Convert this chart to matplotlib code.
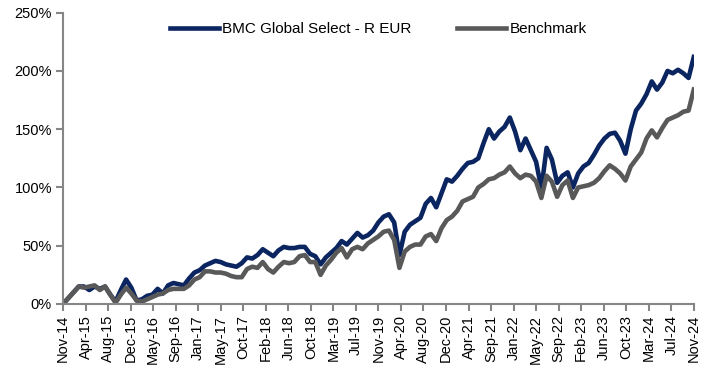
import matplotlib
matplotlib.use('Agg')
import matplotlib.pyplot as plt
from matplotlib.ticker import FuncFormatter

plt.rcParams['font.family'] = ['Liberation Sans', 'DejaVu Sans']

# monthly cumulative performance (%) from Nov-14 to Nov-24
fund = [0, 5, 10, 15, 15, 12, 15, 13, 15, 8, 2, 12, 21, 14, 3, 4, 7, 8, 13, 9,
        16, 18, 17, 16, 22, 27, 29, 33, 35, 37, 36, 34, 33, 32, 35, 40, 39, 42, 47, 44,
        41, 46, 49, 48, 48, 49, 49, 43, 41, 34, 40, 44, 48, 54, 51, 56, 61, 57, 59, 63,
        70, 75, 77, 70, 42, 62, 68, 71, 74, 86, 91, 83, 95, 107, 105, 110, 116, 121, 122, 125,
        138, 150, 142, 148, 152, 160, 148, 132, 142, 132, 122, 99, 134, 124, 104, 110, 113, 100, 112, 118,
        121, 128, 136, 142, 146, 147, 140, 129, 150, 166, 172, 180, 191, 184, 190, 200, 198, 201, 198, 194,
        212]
bench = [0, 5, 10, 15, 14, 15, 16, 12, 15, 8, 1, 8, 14, 9, 3, 2, 4, 6, 8, 9,
         12, 13, 13, 13, 16, 21, 23, 28, 28, 27, 27, 26, 24, 23, 23, 30, 32, 31, 36, 30,
         27, 32, 36, 35, 36, 41, 42, 36, 36, 25, 33, 38, 44, 48, 40, 47, 49, 47, 52, 55,
         58, 62, 63, 55, 31, 45, 49, 51, 51, 58, 60, 54, 65, 72, 75, 80, 88, 90, 92, 100,
         103, 107, 108, 111, 113, 118, 112, 108, 111, 110, 105, 91, 110, 105, 92, 102, 106, 91, 100, 101,
         102, 104, 108, 114, 119, 116, 112, 106, 118, 124, 130, 142, 149, 143, 151, 158, 160, 162, 165, 166,
         184]

tick_labels = ['Nov-14', 'Apr-15', 'Aug-15', 'Dec-15', 'May-16', 'Sep-16', 'Jan-17', 'May-17',
               'Oct-17', 'Feb-18', 'Jun-18', 'Oct-18', 'Mar-19', 'Jul-19', 'Nov-19', 'Apr-20',
               'Aug-20', 'Dec-20', 'Apr-21', 'Sep-21', 'Jan-22', 'May-22', 'Sep-22', 'Feb-23',
               'Jun-23', 'Oct-23', 'Mar-24', 'Jul-24', 'Nov-24']

navy = '#0b2560'
grey = '#595959'
axis_grey = '#868686'

fig = plt.figure(figsize=(7.16, 3.73), dpi=100)
ax = fig.add_axes([0.088, 0.185, 0.881, 0.781])

months = list(range(len(fund)))
ax.plot(months, fund, color=navy, lw=3.3, label='BMC Global Select - R EUR', solid_joinstyle='round')
ax.plot(months, bench, color=grey, lw=3.3, label='Benchmark', solid_joinstyle='round')

n = len(fund) - 1
step = n / (len(tick_labels) - 1)
ax.set_xticks([i * step for i in range(len(tick_labels))])
ax.set_xticklabels(tick_labels, rotation=90, fontsize=10.5)
ax.set_xlim(0, n)
ax.set_ylim(0, 250)
ax.set_yticks(range(0, 251, 50))
ax.yaxis.set_major_formatter(FuncFormatter(lambda v, p: f'{v:.0f}%'))
ax.tick_params(axis='y', labelsize=10.5, length=5, width=1.5, color=axis_grey, pad=3)
ax.tick_params(axis='x', length=5, width=1.5, color=axis_grey, pad=3)

for s in ['top', 'right']:
    ax.spines[s].set_visible(False)
for s in ['left', 'bottom']:
    ax.spines[s].set_color(axis_grey)
    ax.spines[s].set_linewidth(1.5)

ax.legend(loc='upper center', bbox_to_anchor=(0.5, 1.015), ncol=2, frameon=False,
          fontsize=11, handlelength=3.2, handletextpad=0.2, columnspacing=3.0)

fig.savefig('out.png', dpi=100)
